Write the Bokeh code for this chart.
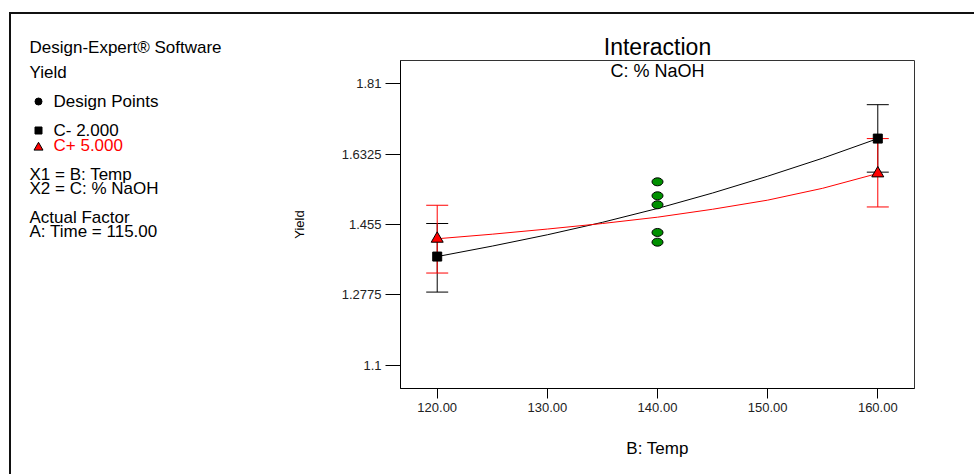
from bokeh.plotting import figure
from bokeh.layouts import row
from bokeh.models import Range1d, FixedTicker, Label, Whisker, TeeHead, ColumnDataSource
from bokeh.core.properties import value
from bokeh.embed import file_html
from bokeh.resources import INLINE

# ---- data ----
temp_levels = [120, 160]
cminus_mean = [1.374, 1.672]
cminus_low = [1.2843, 1.5872]
cminus_high = [1.4575, 1.7576]
cplus_mean = [1.419, 1.584]
cplus_low = [1.3324, 1.4993]
cplus_high = [1.5036, 1.672]

design_temp = [140, 140, 140, 140, 140]
design_yield = [1.5628, 1.5275, 1.5048, 1.4349, 1.4104]

curve_temp = [120, 125, 130, 135, 140, 145, 150, 155, 160]
curve_cminus = [1.374, 1.4005, 1.429, 1.4605, 1.4955, 1.5345, 1.577, 1.6225, 1.672]
curve_cplus = [1.419, 1.4305, 1.4435, 1.4575, 1.4735, 1.4935, 1.5165, 1.5465, 1.584]

x_ticks = [120, 130, 140, 150, 160]
x_tick_labels = ["120.00", "130.00", "140.00", "150.00", "160.00"]
y_ticks = [1.1, 1.2775, 1.455, 1.6325, 1.81]
y_tick_labels = ["1.1", "1.2775", "1.455", "1.6325", "1.81"]

info_header = "Design-Expert® Software"
info_lines = ["Yield", "Design Points", "C- 2.000", "C+ 5.000",
              "X1 = B: Temp", "X2 = C: % NaOH", "Actual Factor", "A: Time = 115.00"]

FONT = "Liberation Sans"

# page geometry
OX, OY = 11, 14            # canvas origin inside the outer border
LW = 270                   # width of the information panel
FL, FR, FT, FB = 400, 914, 60, 388   # plot frame on the page
H = 474 - OY

X0, X1 = 116.667, 163.333
Y0, Y1 = 1.0408, 1.8692

# ---------- left information panel (frame is aligned to the chart frame; coords = page px) ----------
info = figure(width=LW, height=H, output_backend="svg", toolbar_location=None,
              x_range=Range1d(OX, OX + LW), y_range=Range1d(FB, FT),
              min_border_left=0, min_border_right=0,
              min_border_top=FT - OY, min_border_bottom=474 - FB, outline_line_color=None)
info.axis.visible = False
info.grid.visible = False
info.title.text = info_header
info.title.align = "left"
info.title.offset = 18
info.title.text_font = FONT
info.title.text_font_size = "17px"
info.title.text_font_style = "normal"
info.title.text_color = "black"
info.title.standoff = 7

info_x = [29, 53, 53, 53, 29, 29, 29, 29]
info_y = [72, 101, 130, 145, 174, 188, 217, 231]
info_col = ["black", "black", "black", "red", "black", "black", "black", "black"]
info.text(x=info_x, y=info_y, text=info_lines, text_color=info_col,
          text_font=value(FONT), text_font_size="17px", text_baseline="middle", text_align="left")
# legend symbols
info.scatter([38], [101], marker="circle", size=7, fill_color="black", line_color="black")
info.scatter([38], [130], marker="square", size=7, fill_color="black", line_color="black")
info.scatter([38], [147], marker="triangle", size=9, fill_color="red", line_color="black")

# ---------- main chart ----------
W = 974 - OX - LW
p = figure(width=W, height=H, output_backend="svg", toolbar_location=None,
           x_range=Range1d(X0, X1), y_range=Range1d(Y0, Y1),
           min_border_left=FL - OX - LW, min_border_right=974 - FR,
           min_border_top=FT - OY, min_border_bottom=474 - FB)
p.grid.visible = False
p.outline_line_color = "#333333"
p.outline_line_width = 1

p.title.text = "Interaction"
p.title.align = "center"
p.title.text_font = FONT
p.title.text_font_size = "23px"
p.title.text_font_style = "normal"
p.title.text_color = "black"
p.title.standoff = 2

p.xaxis.ticker = FixedTicker(ticks=x_ticks)
p.xaxis.major_label_overrides = {t: s for t, s in zip(x_ticks, x_tick_labels)}
p.yaxis.ticker = FixedTicker(ticks=y_ticks)
p.yaxis.major_label_overrides = {t: s for t, s in zip(y_ticks, y_tick_labels)}
for ax in (p.xaxis, p.yaxis):
    ax.minor_tick_line_color = None
    ax.major_tick_in = 0
    ax.axis_line_color = "black"
    ax.major_tick_line_color = "black"
    ax.major_label_text_font = FONT
    ax.major_label_text_font_size = "13px"
    ax.major_label_text_color = "#222222"
    ax.axis_label_text_font = FONT
    ax.axis_label_text_font_style = "normal"
    ax.axis_label_text_color = "black"
p.xaxis.major_tick_out = 10
p.yaxis.major_tick_out = 15
p.xaxis.major_label_standoff = 4
p.yaxis.major_label_standoff = 4
p.xaxis.axis_label = "B: Temp"
p.xaxis.axis_label_text_font_size = "17px"
p.xaxis.axis_label_standoff = 24
p.yaxis.axis_label = "Yield"
p.yaxis.axis_label_text_font_size = "13px"
p.yaxis.axis_label_standoff = 32

# fitted curves
p.line(curve_temp, curve_cminus, line_color="black", line_width=1)
p.line(curve_temp, curve_cplus, line_color="red", line_width=1)

# error bars
src_m = ColumnDataSource(dict(x=temp_levels, lo=cminus_low, hi=cminus_high))
src_p = ColumnDataSource(dict(x=temp_levels, lo=cplus_low, hi=cplus_high))
p.add_layout(Whisker(source=src_m, base="x", lower="lo", upper="hi", line_color="black",
                     upper_head=TeeHead(size=22, line_color="black"),
                     lower_head=TeeHead(size=22, line_color="black")))
p.add_layout(Whisker(source=src_p, base="x", lower="lo", upper="hi", line_color="red",
                     upper_head=TeeHead(size=22, line_color="red"),
                     lower_head=TeeHead(size=22, line_color="red")))

# means
p.scatter(temp_levels, cminus_mean, marker="square", size=9, fill_color="black", line_color="black")
p.scatter(temp_levels, cplus_mean, marker="triangle", size=12, fill_color="red", line_color="black")

# design points
p.ellipse(design_temp, design_yield, width=11, height=8, width_units="screen", height_units="screen",
          fill_color="#009000", line_color="black", line_width=1)

# subtitle inside the frame
p.add_layout(Label(x=(X0 + X1) / 2, y=Y1, y_offset=-10, text="C: % NaOH", text_font=FONT,
                   text_font_size="18px", text_color="black",
                   text_align="center", text_baseline="middle"))

layout = row(info, p, spacing=0,
             styles={"margin-left": "9px", "margin-top": "12px",
                     "border-left": "2px solid #111", "border-top": "2px solid #111"})

open("out.html", "w").write(file_html(layout, INLINE))
